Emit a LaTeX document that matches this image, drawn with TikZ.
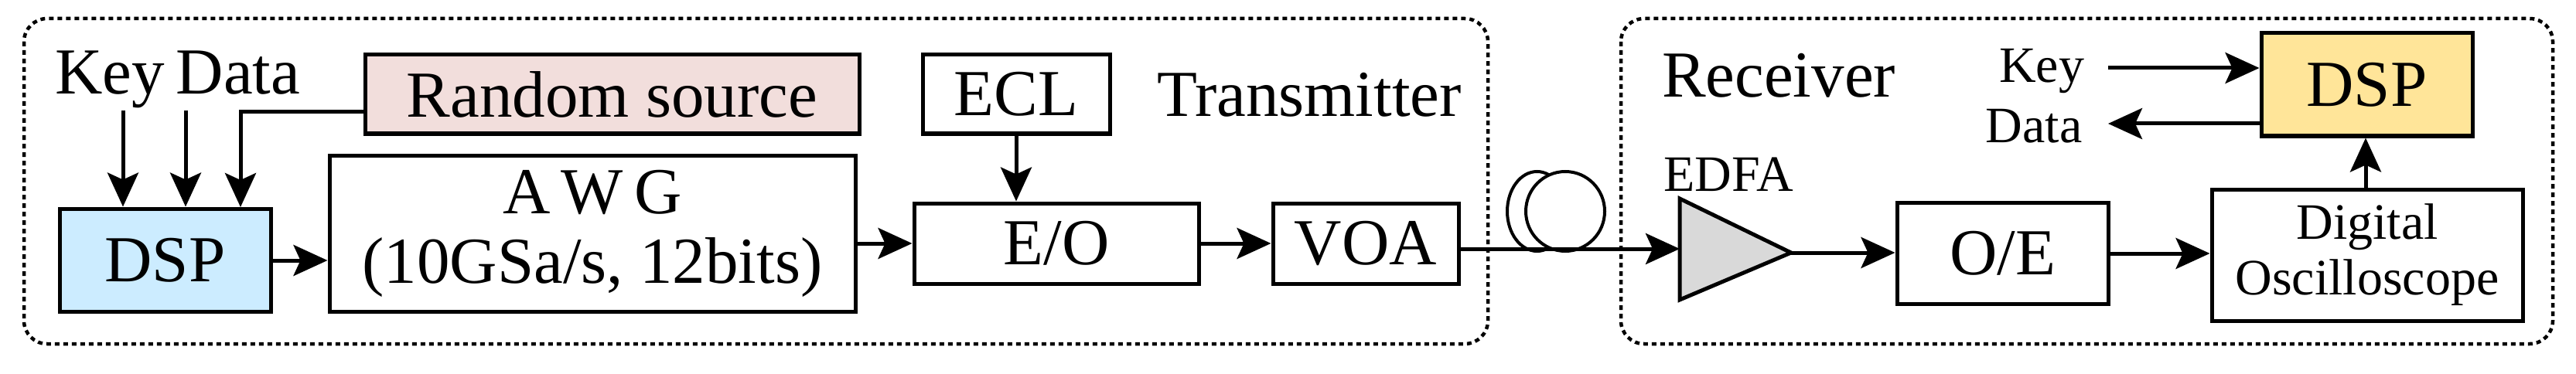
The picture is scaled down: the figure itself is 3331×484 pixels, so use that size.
\documentclass[tikz,border=0pt]{standalone}
\usepackage{fontspec}
\setmainfont{Liberation Serif}
\newfontfamily\tnr{Liberation Serif}
\usetikzlibrary{arrows.meta}
\begin{document}
\begin{tikzpicture}[x=1pt,y=-1pt,
  blk/.style={draw,line width=5pt,minimum width=0pt,inner sep=0pt},
  grp/.style={draw,line width=4.5pt,dash pattern=on 6pt off 5pt,rounded corners=30pt},
  arr/.style={line width=5pt,-{Stealth[length=44pt,width=40pt,inset=9pt]}},
  big/.style={font=\tnr\fontsize{85}{90}\selectfont},
  mid/.style={font=\tnr\fontsize{66}{72}\selectfont}]
\useasboundingbox (0,0) rectangle (3331,484);
\fill[white] (0,0) rectangle (3331,484);
% groups
\draw[grp] (31,24) rectangle (1924,445);
\draw[grp] (2096,24) rectangle (3301,445);
% transmitter
\node[blk,fill={rgb,255:red,242;green,222;blue,220},minimum width=639pt,minimum height=102pt,big] (rs) at (791.5,122) {Random source};
\node[blk,fill={rgb,255:red,204;green,236;blue,255},minimum width=273pt,minimum height=133pt,big] (dsp1) at (213.5,336.5) {DSP};
\node[blk,minimum width=680pt,minimum height=202pt,big,align=center] (awg) at (766,302) {A\,W\,G\\(10GSa/s, 12bits)};
\node[blk,minimum width=242pt,minimum height=102pt,big] (ecl) at (1314,122) {ECL};
\node[blk,minimum width=368pt,minimum height=104pt,big] (eo) at (1366,315) {E/O};
\node[blk,minimum width=240pt,minimum height=104pt,big] (voa) at (1766,315) {VOA};
\node[big,anchor=base] (key1) at (142,122) {Key};
\node[big,anchor=base] (data1) at (308,122) {Data};
\node[big,anchor=base] (tx) at (1693,150) {Transmitter};
\coordinate (k1) at (159,143);
\coordinate (d1) at (240,143);
\draw[arr] (k1) -- (k1 |- dsp1.north);
\draw[arr] (d1) -- (d1 |- dsp1.north);
\draw[arr] (rs.west |- 0,145) -| (311,268);
\draw[arr] (dsp1.east |- 0,337) -- (awg.west |- 0,337);
\draw[arr] (awg.east |- eo.west) -- (eo.west);
\draw[arr] (ecl.south) -- (eo.north -| ecl.south);
\draw[arr] (eo.east) -- (voa.west);
% fiber
\draw[line width=4pt] (1987.5,273.5) ellipse (38.5pt and 51.5pt);
\draw[line width=4pt,fill=white] (2024,273.5) ellipse (51pt and 51.5pt);
% receiver
\node[big,anchor=base] (rx) at (2300,126) {Receiver};
\node[mid,anchor=base] (edfal) at (2235,247) {EDFA};
\draw[line width=5pt,fill={rgb,255:red,217;green,217;blue,217},line join=miter] (2172,257) -- (2316,327) -- (2172,388) -- cycle;
\coordinate (edin) at (2172,322);
\coordinate (edout) at (2316,327);
\draw[arr] (voa.east |- 0,322) -- (edin);
\node[blk,minimum width=273pt,minimum height=131pt,big] (oe) at (2589.5,327.5) {O/E};
\node[blk,minimum width=402pt,minimum height=170pt,mid,align=center] (osc) at (3061,330) {Digital\\Oscilloscope};
\node[blk,fill={rgb,255:red,255;green,229;blue,153},minimum width=273pt,minimum height=133pt,big] (dsp2) at (3060.5,109.5) {DSP};
\draw[arr] (edout) -- (oe.west |- edout);
\draw[arr] (oe.east |- 0,328) -- (osc.west |- 0,328);
\draw[arr] (osc.north -| 3059,0) -- (dsp2.south -| 3059,0);
\node[mid,anchor=base] (key2) at (2640,107) {Key};
\node[mid,anchor=base] (data2) at (2630,185) {Data};
\coordinate (kin) at (2726,88);
\coordinate (dout) at (2726,160);
\draw[arr] (kin) -- (dsp2.west |- kin);
\draw[arr] (dsp2.west |- dout) -- (dout);
\end{tikzpicture}
\end{document}
